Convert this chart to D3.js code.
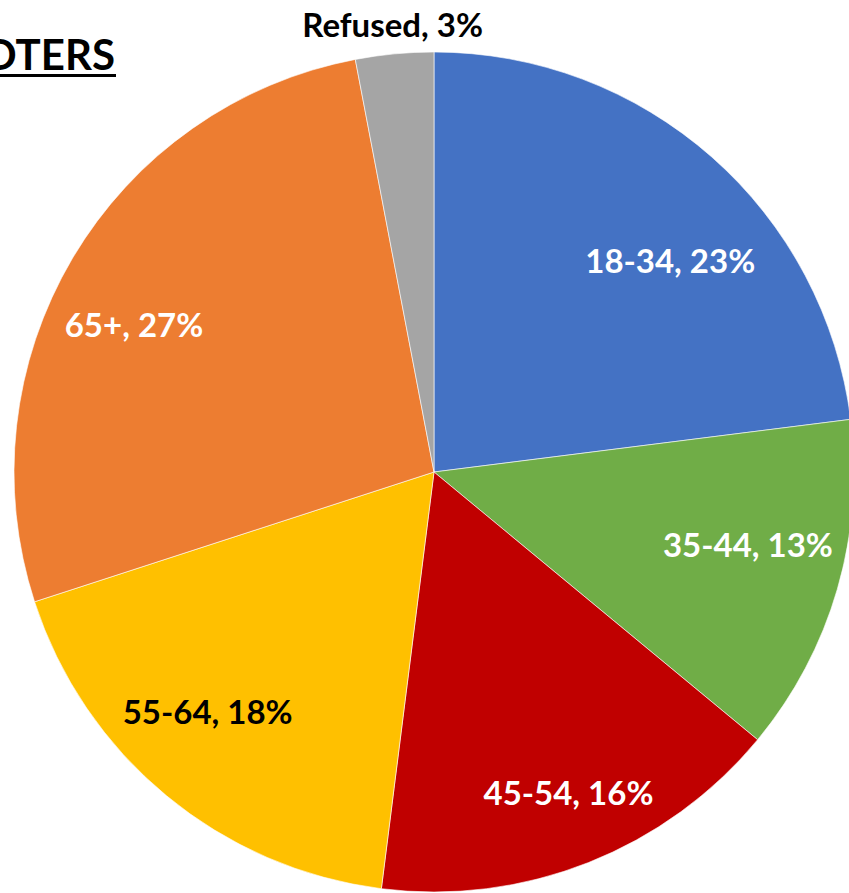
<!DOCTYPE html>
<html>
<head>
<meta charset="utf-8">
<script src="https://cdn.jsdelivr.net/npm/d3@7"></script>
<style>
  html, body { margin: 0; padding: 0; background: #fff; overflow: hidden; }
  svg { display: block; }
</style>
</head>
<body>
<svg id="chart" width="849" height="893"></svg>
<script>
// age groups of voters, clockwise from 12 o'clock
const categories = ['18-34', '35-44', '45-54', '55-64', '65+', 'Refused']
const shares = [23, 13, 16, 18, 27, 3]
const colors = ['#4472C4', '#70AD47', '#C00000', '#FFC000', '#ED7D31', '#A5A5A5']
const labelColors = ['#fff', '#fff', '#fff', '#000', '#fff', '#000']
const titleText = 'VOTERS'

const svg = d3.select('#chart')
const cx = 434, cy = 472, r = 420
const font = 'Lato, "Open Sans", sans-serif'

const data = categories.map((c, i) => ({cat: c, value: shares[i], color: colors[i], lc: labelColors[i]}))

const pie = d3.pie().value(d => d.value).sort(null)
const arc = d3.arc().innerRadius(0).outerRadius(r)
const arcs = pie(data)

const g = svg.append('g').attr('transform', `translate(${cx},${cy})`)

g.selectAll('path')
  .data(arcs)
  .enter().append('path')
  .attr('d', arc)
  .attr('fill', d => d.data.color)
  .attr('stroke', '#fff')
  .attr('stroke-width', 0.6)

// label radius: inside for big slices, outside for the small grey one
const labelR = d => d.data.value < 5 ? 450 : 330
const nudge = {'18-34': [18, 36], '35-44': [-3, -20], '45-54': [13, 13], '55-64': [-16, -15], '65+': [-16, 20], 'Refused': [1, 0]}

g.selectAll('text.lbl')
  .data(arcs)
  .enter().append('text')
  .attr('class', 'lbl')
  .attr('x', d => {
    const a = (d.startAngle + d.endAngle) / 2
    return Math.sin(a) * labelR(d) + nudge[d.data.cat][0]
  })
  .attr('y', d => {
    const a = (d.startAngle + d.endAngle) / 2
    return -Math.cos(a) * labelR(d) + nudge[d.data.cat][1]
  })
  .attr('text-anchor', 'middle')
  .attr('dominant-baseline', 'central')
  .style('font', `bold 33px ${font}`)
  .attr('fill', d => d.data.lc)
  .text(d => `${d.data.cat}, ${d.data.value}%`)

// title, clipped at the left edge as in the original
svg.append('text')
  .attr('x', 115)
  .attr('y', 70)
  .attr('text-anchor', 'end')
  .style('font', `bold 42px ${font}`)
  .attr('fill', '#000')
  .text(titleText)
svg.append('rect')
  .attr('x', 0).attr('y', 74).attr('width', 116).attr('height', 3)
  .attr('fill', '#000')
</script>
</body>
</html>
